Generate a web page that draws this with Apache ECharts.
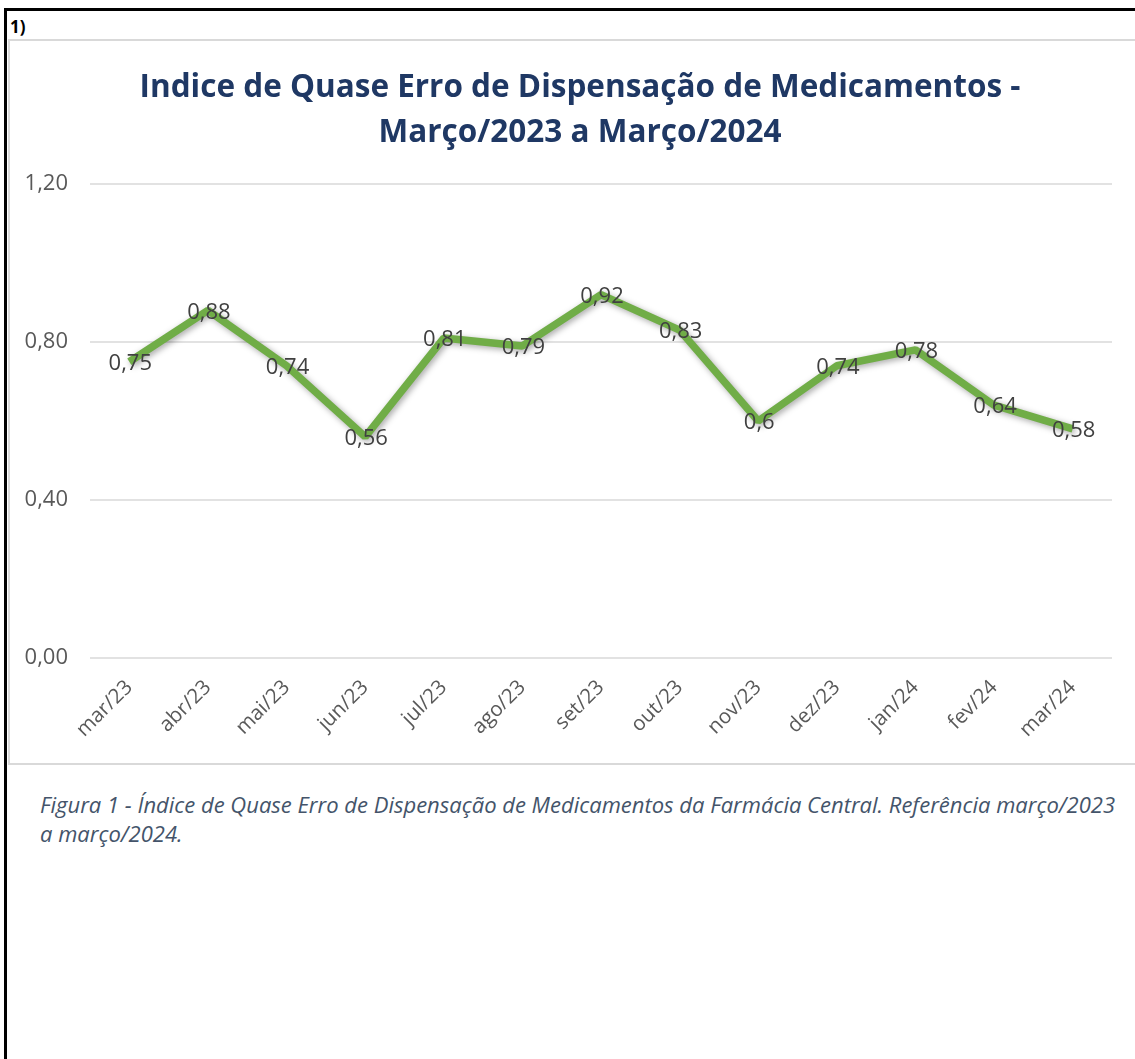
<!DOCTYPE html>
<html>
<head>
<meta charset="utf-8">
<script src="https://cdn.jsdelivr.net/npm/echarts@6/dist/echarts.min.js"></script>
<style>
  body { margin: 0; background: #fff; font-family: "Open Sans", sans-serif; overflow: hidden; }
  #frame { position: absolute; left: 4px; top: 8px; width: 1140px; height: 1060px;
    border-left: 3px solid #000; border-top: 3px solid #000; }
  #num { position: absolute; left: 10px; top: 15px; font-size: 17px; font-weight: bold; color: #000; }
  #chart { position: absolute; left: 8px; top: 39px; width: 1145px; height: 722px;
    border: 2px solid #d9d9d9; }
  #caption { position: absolute; left: 40px; top: 790px; font-size: 22px; font-style: italic;
    color: #44546a; line-height: 29px; white-space: nowrap; }
</style>
</head>
<body>
<div id="frame"></div>
<div id="num">1)</div>
<div id="chart"></div>
<div id="caption">Figura 1 - Índice de Quase Erro de Dispensação de Medicamentos da Farmácia Central. Referência março/2023<br>a março/2024.</div>
<script>
// dados
var meses = ['mar/23', 'abr/23', 'mai/23', 'jun/23', 'jul/23', 'ago/23', 'set/23',
  'out/23', 'nov/23', 'dez/23', 'jan/24', 'fev/24', 'mar/24'];
var indice = [0.75, 0.88, 0.74, 0.56, 0.81, 0.79, 0.92, 0.83, 0.6, 0.74, 0.78, 0.64, 0.58];
var yTicks = [0, 0.4, 0.8, 1.2];

var fonte = '"Open Sans", sans-serif';
var myChart = echarts.init(document.getElementById('chart'));
var option = {
  backgroundColor: '#fff',
  animation: false,
  title: {
    text: 'Indice de Quase Erro de Dispensação de Medicamentos -\nMarço/2023 a Março/2024',
    left: 565,
    textAlign: 'center',
    top: 20,
    textStyle: {
      color: '#1f3864',
      fontFamily: fonte,
      fontWeight: 'bold',
      fontSize: 31.5,
      lineHeight: 45
    }
  },
  grid: { left: 80, width: 1022, top: 143, height: 474 },
  xAxis: {
    type: 'category',
    data: meses,
    boundaryGap: true,
    axisLine: { show: false },
    axisTick: { show: false },
    axisLabel: {
      rotate: 45,
      margin: 26,
      color: '#595959',
      fontFamily: fonte,
      fontSize: 20.5
    }
  },
  yAxis: {
    type: 'value',
    min: yTicks[0],
    max: yTicks[yTicks.length - 1],
    interval: 0.4,
    axisLine: { show: false },
    axisTick: { show: false },
    axisLabel: {
      margin: 22,
      color: '#595959',
      fontFamily: fonte,
      fontSize: 22,
      formatter: function (v) { return v.toFixed(2).replace('.', ','); }
    },
    splitLine: { lineStyle: { color: '#d9d9d9', width: 1.5 } }
  },
  series: [{
    type: 'line',
    data: indice,
    symbol: 'circle',
    symbolSize: 0,
    showSymbol: true,
    lineStyle: {
      color: '#70ad47',
      width: 7.5,
      shadowColor: 'rgba(0,0,0,0.35)',
      shadowBlur: 6,
      shadowOffsetX: 2,
      shadowOffsetY: 2
    },
    itemStyle: { color: '#70ad47' },
    label: {
      show: true,
      position: 'inside',
      offset: [1, 2],
      color: '#404040',
      fontFamily: fonte,
      fontSize: 22,
      formatter: function (p) { return String(p.value).replace('.', ','); }
    }
  }]
};
myChart.setOption(option);
</script>
</body>
</html>
